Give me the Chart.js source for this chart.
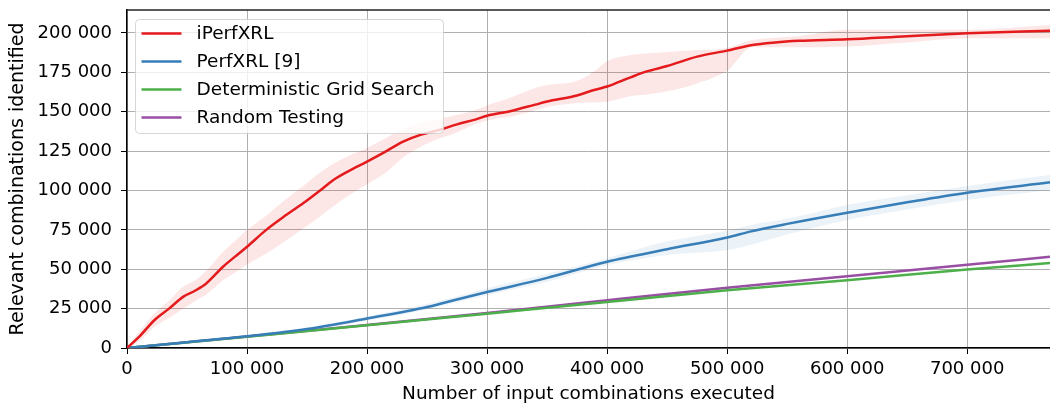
<!DOCTYPE html>
<html>
<head>
<meta charset="utf-8">
<script src="https://cdn.jsdelivr.net/npm/chart.js@4/dist/chart.umd.min.js"></script>
<style>
  html, body { margin: 0; padding: 0; background: #fff; }
  #wrap { width: 1050px; height: 403px; }
</style>
</head>
<body>
<div id="wrap"><canvas id="chart" width="1050" height="403"></canvas></div>
<script>
// Données
const xTicks = [0, 100000, 200000, 300000, 400000, 500000, 600000, 700000];
const yTicks = [0, 25000, 50000, 75000, 100000, 125000, 150000, 175000, 200000];

// iPerfXRL (rouge) + bande min/max
const redX  = [0, 10000, 23000, 35000, 47000, 57000, 66000, 80000, 90000, 100000, 116000, 130000, 147000, 160000, 172000, 185000, 200000, 215000, 230000, 245000, 260000, 275000, 290000, 300000, 320000, 340000, 350000, 373000, 390000, 400000, 420000, 433000, 450000, 475000, 500000, 521000, 540000, 560000, 600000, 650000, 700000, 769000];
const redY  = [0, 7000, 17800, 25000, 32600, 36500, 41000, 51600, 58000, 64300, 75000, 83000, 92000, 99500, 106700, 112500, 118300, 124500, 131000, 135500, 138400, 142000, 145000, 147500, 150500, 154500, 156500, 160000, 164000, 166000, 172000, 175600, 179000, 185000, 188800, 192400, 194000, 195000, 196000, 198000, 199800, 201500];
const redHi = [0, 10000, 22000, 30000, 39000, 43000, 49000, 61000, 68000, 75000, 84000, 93000, 103000, 111000, 117000, 122000, 127000, 133000, 139000, 143000, 145500, 148000, 151000, 154000, 159000, 165000, 167000, 169000, 176000, 182000, 186000, 187000, 188000, 189000, 190500, 195500, 197000, 198000, 202000, 202000, 202000, 205000];
const redLo = [0, 4000, 13500, 19000, 25000, 30000, 34000, 43000, 48000, 53000, 60000, 67000, 76000, 83000, 90000, 97000, 104000, 111000, 121000, 128000, 133000, 137000, 142000, 144500, 147000, 151000, 153000, 155400, 156000, 156400, 160000, 161000, 163000, 168000, 176000, 191000, 191000, 191000, 191500, 194000, 196600, 196600];

// PerfXRL [9] (bleu) + bande
const blueX  = [0, 50000, 100000, 150000, 200000, 250000, 269000, 300000, 350000, 400000, 450000, 500000, 519000, 550000, 600000, 650000, 700000, 769000];
const blueY  = [0, 3700, 7400, 12000, 18700, 26000, 29700, 35500, 44500, 54800, 62700, 70200, 73900, 78800, 85900, 92500, 98600, 105200];
const blueHi = [0, 4000, 8000, 13000, 20000, 28000, 31500, 38000, 47000, 57000, 67700, 74500, 78000, 82000, 90800, 97000, 102900, 109800];
const blueLo = [0, 3400, 7000, 11000, 17500, 24500, 28000, 33500, 42000, 52500, 59000, 62200, 65400, 72000, 81300, 88000, 94000, 100300];

// Deterministic Grid Search (vert)
const greenX = [0, 100000, 200000, 300000, 400000, 500000, 600000, 700000, 769000];
const greenY = [0, 7200, 14400, 21800, 29200, 36700, 43000, 49800, 53900];

// Random Testing (violet)
const purpleX = [0, 100000, 200000, 300000, 400000, 500000, 600000, 700000, 769000];
const purpleY = [0, 7300, 14600, 22200, 30300, 38200, 45600, 52800, 58000];

const RED = '#e41a1c', BLUE = '#377eb8', GREEN = '#4daf4a', PURPLE = '#984ea3';
const FONT = "'DejaVu Sans', sans-serif";

function pts(xs, ys) {
    return xs.map((x, i) => ({ x: x, y: ys[i] }));
}

function fmt(v) {
    return String(v).replace(/\B(?=(\d{3})+(?!\d))/g, ' ');
}

function band(xs, ys, fillColor, fillTo) {
    return {
        data: pts(xs, ys),
        borderWidth: 0,
        pointRadius: 0,
        backgroundColor: fillColor,
        fill: fillTo,
        cubicInterpolationMode: 'monotone',
        isBand: true
    };
}

function line(label, xs, ys, color) {
    return {
        label: label,
        data: pts(xs, ys),
        borderColor: color,
        backgroundColor: color,
        borderWidth: 2.5,
        pointRadius: 0,
        fill: false,
        cubicInterpolationMode: 'monotone'
    };
}

// Cadre du haut + légende dessinée dans la zone du graphique
const framePlugin = {
    id: 'frame',
    afterDatasetsDraw(chart) {
        const ctx = chart.ctx;
        const a = chart.chartArea;
        ctx.save();
        ctx.strokeStyle = '#222';
        ctx.lineWidth = 1.5;
        ctx.beginPath();
        ctx.moveTo(a.left, a.top);
        ctx.lineTo(a.right, a.top);
        ctx.stroke();

        // légende
        const items = chart.data.datasets.filter(d => !d.isBand);
        const bx = a.left + 8.5, by = a.top + 9.5, bw = 308, bh = 114, r = 4;
        ctx.fillStyle = 'rgba(255,255,255,0.8)';
        ctx.strokeStyle = 'rgba(204,204,204,0.8)';
        ctx.lineWidth = 1;
        ctx.beginPath();
        ctx.roundRect(bx, by, bw, bh, r);
        ctx.fill();
        ctx.stroke();
        ctx.font = '18.5px ' + FONT;
        ctx.textBaseline = 'middle';
        ctx.textAlign = 'left';
        items.forEach((d, i) => {
            const yy = by + 14 + i * 28;
            ctx.strokeStyle = d.borderColor;
            ctx.lineWidth = 2.5;
            ctx.beginPath();
            ctx.moveTo(bx + 6, yy);
            ctx.lineTo(bx + 46, yy);
            ctx.stroke();
            ctx.fillStyle = '#000';
            ctx.fillText(d.label, bx + 61, yy + 1);
        });
        ctx.restore();
    }
};

new Chart(document.getElementById('chart'), {
    type: 'line',
    data: {
        datasets: [
            line('iPerfXRL', redX, redY, RED),
            line('PerfXRL [9]', blueX, blueY, BLUE),
            line('Deterministic Grid Search', greenX, greenY, GREEN),
            line('Random Testing', purpleX, purpleY, PURPLE),
            band(redX, redHi, 'rgba(228,26,28,0.11)', '+1'),
            band(redX, redLo, 'rgba(0,0,0,0)', false),
            band(blueX, blueHi, 'rgba(55,126,184,0.10)', '+1'),
            band(blueX, blueLo, 'rgba(0,0,0,0)', false)
        ]
    },
    options: {
        responsive: false,
        animation: false,
        devicePixelRatio: 1,
        layout: { padding: { top: 10, right: 0, left: 0, bottom: 0 } },
        plugins: {
            legend: { display: false },
            tooltip: { enabled: false }
        },
        scales: {
            x: {
                type: 'linear',
                min: 0,
                max: 769000,
                afterFit: s => { s.height = 55; s.paddingLeft = 0; s.paddingRight = 0; },
                afterBuildTicks: s => { s.ticks = xTicks.map(v => ({ value: v })); },
                grid: { color: '#b0b0b0', lineWidth: 1, tickColor: '#000', tickLength: 6 },
                border: { color: '#000', width: 1.5 },
                ticks: {
                    color: '#000',
                    font: { family: FONT, size: 18 },
                    padding: 5,
                    maxRotation: 0,
                    callback: v => fmt(v)
                },
                title: {
                    display: true,
                    text: 'Number of input combinations executed',
                    color: '#000',
                    font: { family: FONT, size: 18.5 },
                    padding: { top: 0, bottom: -2 }
                }
            },
            y: {
                type: 'linear',
                min: 0,
                max: 214600,
                afterFit: s => { s.width = 127; s.paddingTop = 0; s.paddingBottom = 0; },
                afterBuildTicks: s => { s.ticks = yTicks.map(v => ({ value: v })); },
                grid: { color: '#b0b0b0', lineWidth: 1, tickColor: '#000', tickLength: 6 },
                border: { color: '#000', width: 1.5 },
                ticks: {
                    color: '#000',
                    font: { family: FONT, size: 18 },
                    padding: 9,
                    callback: v => fmt(v)
                },
                title: {
                    display: true,
                    text: 'Relevant combinations identified',
                    color: '#000',
                    font: { family: FONT, size: 19 },
                    padding: { top: 7, bottom: 0 }
                }
            }
        }
    },
    plugins: [framePlugin]
});
</script>
</body>
</html>
